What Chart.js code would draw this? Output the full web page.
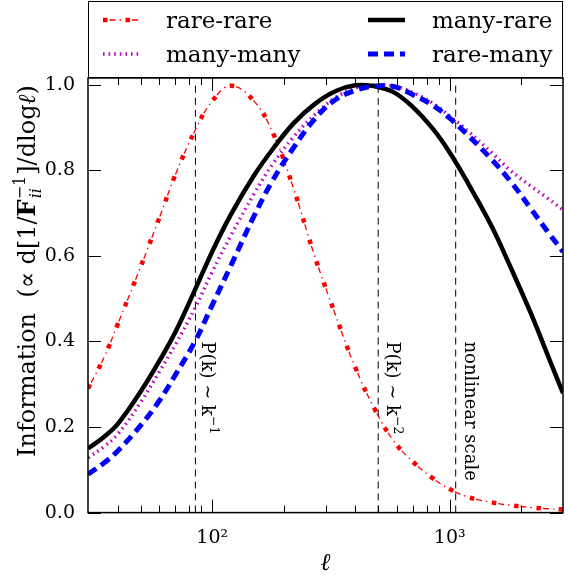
<!DOCTYPE html>
<html><head><meta charset="utf-8">
<script src="https://cdn.jsdelivr.net/npm/chart.js@4"></script>
<style>html,body{margin:0;padding:0;background:#fff}</style>
</head><body>
<canvas id="c" width="568" height="578" style="width:568px;height:578px;display:block"></canvas>
<script>
// ---- data ----
const ell       = [30,35,40,50,60,70,85,100,120,150,180,220,270,330,400,480,580,700,850,1000,1200,1500,1800,2200,2600,3000];
const rareRare  = [0.29,0.362,0.44,0.575,0.69,0.79,0.895,0.962,0.998,0.962,0.888,0.758,0.60,0.463,0.34,0.245,0.168,0.119,0.08,0.055,0.036,0.024,0.017,0.012,0.009,0.007];
const manyRare  = [0.15,0.177,0.207,0.283,0.355,0.422,0.523,0.61,0.697,0.788,0.85,0.91,0.955,0.985,0.999,0.997,0.983,0.948,0.897,0.842,0.768,0.67,0.575,0.465,0.365,0.279];
const manyMany  = [0.128,0.154,0.183,0.258,0.33,0.393,0.48,0.563,0.648,0.745,0.815,0.878,0.93,0.97,0.992,1.0,0.997,0.982,0.957,0.927,0.891,0.842,0.8,0.763,0.734,0.707];
const rareMany  = [0.09,0.116,0.144,0.204,0.262,0.322,0.402,0.485,0.578,0.693,0.777,0.853,0.92,0.965,0.987,0.997,0.996,0.977,0.952,0.922,0.881,0.826,0.775,0.71,0.655,0.61];
const seriesLabels = ['rare-rare','many-rare','many-many','rare-many'];
const scaleLines   = [85, 500, 1060];
const annotX       = [91, 543, 1157];
const annotY       = 0.4;
const annotText    = ['P(k) \u223C k', 'P(k) \u223C k', 'nonlinear scale'];
const annotSup     = ['\u22121', '\u22122', ''];
const yTickValues  = [0, 0.2, 0.4, 0.6, 0.8, 1.0];
const xMajorTicks  = [100, 1000];
const xTickLabels  = ['10\u00B2', '10\u00B3'];
const xMinorTicks  = [40,50,60,70,80,90,200,300,400,500,600,700,800,900,2000];
const xTitle = '\u2113';

const SERIF = '"DejaVu Serif", serif';
Chart.defaults.color = '#000';
const pts = arr => ell.map((x, i) => ({x, y: arr[i]}));

const datasets = [
  {label: seriesLabels[3], data: pts(rareMany), borderColor: '#0000ff', borderWidth: 5, borderDash: [10, 6], order: 0, legendSlot: 3},
  {label: seriesLabels[1], data: pts(manyRare), borderColor: '#000000', borderWidth: 4.5, order: 1, legendSlot: 1},
  {label: seriesLabels[2], data: pts(manyMany), borderColor: '#bf00bf', borderWidth: 3.5, borderDash: [1.6, 4], order: 2, legendSlot: 2},
  {label: seriesLabels[0], data: pts(rareRare), borderColor: '#ff0000', borderWidth: 4.5, borderDash: [4.5, 18], order: 3, legendSlot: 0},
  {label: seriesLabels[0], data: pts(rareRare), borderColor: '#ff0000', borderWidth: 1.3, borderDash: [6, 4, 1.5, 11], borderDashOffset: -6.5, order: 4, legendSlot: 0},
];
scaleLines.forEach(v => datasets.push({
  label: '', data: [{x: v, y: 0}, {x: v, y: 1}], borderColor: '#000', borderWidth: 1, borderDash: [7, 5], order: 5
}));
datasets.forEach(d => { d.pointRadius = 0; d.fill = false; d.tension = 0.4; d.clip = 0; d.borderCapStyle = 'butt'; });

function drawRuns(ctx, runs, x, y) {
  let cx = x;
  runs.forEach(r => {
    if (r.stack) {
      ctx.font = r.font;
      ctx.fillText(r.sup, cx, y - r.up);
      const w1 = ctx.measureText(r.sup).width;
      ctx.font = r.subFont;
      ctx.fillText(r.sub, cx + 1, y + r.down);
      const w2 = ctx.measureText(r.sub).width + 1;
      cx += Math.max(w1, w2) + 1;
    } else {
      ctx.font = r.font;
      ctx.fillText(r.text, cx, y + (r.dy || 0));
      cx += ctx.measureText(r.text).width;
    }
  });
}

const decor = {
  id: 'decor',
  afterDatasetsDraw(chart) {
    const {ctx, chartArea: a, scales: {x: xs, y: ys}} = chart;
    ctx.save();
    ctx.strokeStyle = '#000';
    ctx.fillStyle = '#000';
    ctx.setLineDash([]);
    ctx.lineWidth = 1;
    const seg = (x1, y1, x2, y2) => { ctx.beginPath(); ctx.moveTo(x1, y1); ctx.lineTo(x2, y2); ctx.stroke(); };
    xMajorTicks.forEach(v => { const p = Math.round(xs.getPixelForValue(v)) + 0.5; seg(p, a.bottom, p, a.bottom - 13); seg(p, a.top, p, a.top + 13); });
    xMinorTicks.forEach(v => { const p = Math.round(xs.getPixelForValue(v)) + 0.5; seg(p, a.bottom, p, a.bottom - 7); seg(p, a.top, p, a.top + 7); });
    yTickValues.forEach(v => { const p = Math.round(ys.getPixelForValue(v)) + 0.5; seg(a.left, p, a.left + 13, p); seg(a.right, p, a.right - 13, p); });
    ctx.lineWidth = 1.5;
    ctx.strokeRect(a.left, a.top, a.right - a.left, a.bottom - a.top);
    ctx.textBaseline = 'alphabetic';
    ctx.textAlign = 'left';
    annotText.forEach((t, i) => {
      ctx.save();
      ctx.translate(xs.getPixelForValue(annotX[i]), ys.getPixelForValue(annotY));
      ctx.rotate(Math.PI / 2);
      const runs = [{text: t, font: '18px ' + SERIF}];
      if (annotSup[i]) runs.push({text: annotSup[i], font: '12.5px ' + SERIF, dy: -7.5});
      drawRuns(ctx, runs, 0, 0);
      ctx.restore();
    });
    ctx.restore();
  },
  afterDraw(chart) {
    const {ctx, chartArea: a} = chart;
    ctx.save();
    ctx.fillStyle = '#000';
    ctx.strokeStyle = '#000';
    ctx.lineWidth = 1;
    ctx.strokeRect(a.left + 0.5, 1.5, a.right - a.left - 1, 76);
    const cols = [[103, 166], [368, 432]];
    const rowsLine = [20, 54], rowsText = [27.5, 61.5];
    const slotPos = [[0, 0], [1, 0], [0, 1], [1, 1]];
    const done = {};
    chart.data.datasets.forEach(ds => {
      if (ds.legendSlot === undefined) return;
      const [c, r] = slotPos[ds.legendSlot];
      const x0 = cols[c][0], y = rowsLine[r];
      ctx.save();
      ctx.strokeStyle = ds.borderColor;
      ctx.lineWidth = ds.borderWidth;
      ctx.setLineDash(ds.borderDash || []);
      ctx.lineDashOffset = ds.borderDashOffset || 0;
      ctx.lineCap = 'butt';
      ctx.beginPath(); ctx.moveTo(x0, y); ctx.lineTo(x0 + 37, y); ctx.stroke();
      ctx.restore();
      if (!done[ds.legendSlot]) {
        done[ds.legendSlot] = true;
        ctx.font = '23px ' + SERIF;
        ctx.textBaseline = 'alphabetic';
        ctx.textAlign = 'left';
        ctx.fillText(ds.label, cols[c][1], rowsText[r]);
      }
    });
    ctx.save();
    ctx.translate(35, 457);
    ctx.rotate(-Math.PI / 2);
    ctx.textBaseline = 'alphabetic';
    ctx.textAlign = 'left';
    const F = '24px ' + SERIF;
    drawRuns(ctx, [
      {text: 'Information  (\u221D d[1/', font: F},
      {text: 'F', font: 'bold 24px ' + SERIF},
      {stack: true, sup: '\u22121', sub: 'ii', font: '16px ' + SERIF, subFont: 'italic 16px ' + SERIF, up: 10, down: 6},
      {text: ']/dlog', font: F},
      {text: '\u2113', font: 'italic 24px ' + SERIF},
      {text: ')', font: F}
    ], 0, 0);
    ctx.restore();
    ctx.restore();
  }
};

new Chart(document.getElementById('c'), {
  type: 'line',
  data: {datasets},
  options: {
    responsive: false,
    animation: false,
    devicePixelRatio: 1,
    layout: {padding: {top: 78, right: 5, left: 0, bottom: 0}},
    plugins: {legend: {display: false}, tooltip: {enabled: false}},
    scales: {
      x: {
        type: 'logarithmic', min: 30, max: 3000,
        grid: {display: false}, border: {display: false},
        afterBuildTicks: s => { s.ticks = xMajorTicks.map(v => ({value: v})); },
        afterFit: s => { s.height = 65.4; },
        ticks: {autoSkip: false, maxRotation: 0, padding: 6, font: {family: SERIF, size: 19},
                callback: (v, i) => xTickLabels[i]},
        title: {display: true, text: xTitle, font: {family: SERIF, size: 24, style: 'italic'}, padding: {top: 0, bottom: 0}}
      },
      y: {
        min: 0, max: 1.016,
        grid: {display: false}, border: {display: false},
        afterBuildTicks: s => { s.ticks = yTickValues.map(v => ({value: v})); },
        afterFit: s => { s.width = 88; },
        ticks: {padding: 5, font: {family: SERIF, size: 19}, callback: v => Number(v).toFixed(1)}
      }
    }
  },
  plugins: [decor]
});
</script></body></html>
